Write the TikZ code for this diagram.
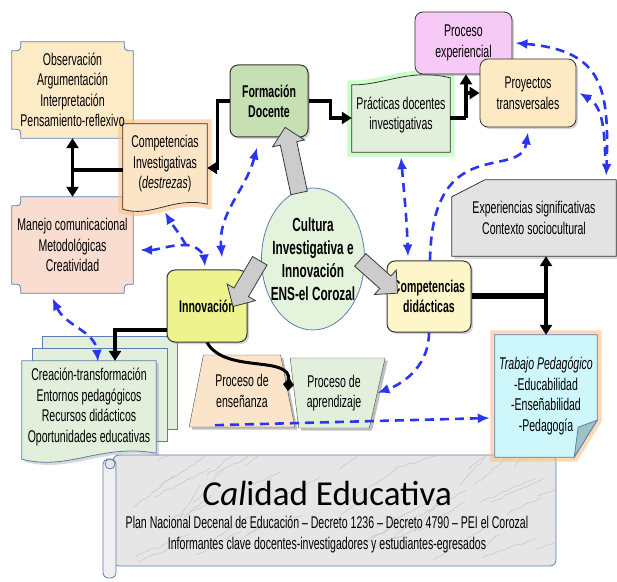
\documentclass[tikz,border=0pt]{standalone}
\usepackage{fontspec}
\setmainfont{Liberation Sans}[FakeStretch=0.62]
\newfontfamily\calibrifont{Carlito}
\usetikzlibrary{arrows.meta,shapes.geometric,shapes.arrows,shadows,calc,backgrounds,decorations.pathmorphing}

\definecolor{obsfill}{HTML}{FDEBC8}
\definecolor{manfill}{HTML}{F9DDD0}
\definecolor{invfill}{HTML}{FCE4C6}
\definecolor{formfill}{HTML}{C6E0B4}
\definecolor{pracfill}{HTML}{E2EFDA}
\definecolor{expfill}{HTML}{F7C9F7}
\definecolor{proyfill}{HTML}{FDE9C3}
\definecolor{sigfill}{HTML}{E3E3E3}
\definecolor{cultfill}{HTML}{E4F3DC}
\definecolor{innofill}{HTML}{EEF38E}
\definecolor{didfill}{HTML}{FDF6C8}
\definecolor{ensfill}{HTML}{FBE5CA}
\definecolor{trabfill}{HTML}{CDF7FB}
\definecolor{foldfill}{HTML}{9EC3C6}
\definecolor{edgeblue}{HTML}{5B7DB3}
\definecolor{dashblue}{HTML}{2A35F0}
\definecolor{marble}{HTML}{E6E6E6}

\tikzset{
  txt/.style     = {font=\fontsize{17}{20.5}\selectfont, align=center, inner sep=2pt},
  boldtxt/.style = {txt, font=\fontsize{17}{20}\selectfont\bfseries},
  flat/.style    = {txt, rectangle},
  rbox/.style    = {boldtxt, draw=black!80, line width=1pt, rounded corners=8pt,
                    drop shadow={opacity=0.35, shadow xshift=2pt, shadow yshift=-2pt}},
  lbox/.style    = {txt, draw=black!80, line width=0.8pt, rounded corners=8pt,
                    drop shadow={opacity=0.35, shadow xshift=2pt, shadow yshift=-2pt}},
  plaque/.style  = {draw=edgeblue, line width=0.8pt},
  doc/.style     = {draw=black!80, line width=0.8pt},
  glow/.style    = {preaction={draw=#1, line width=9pt, opacity=0.6}},
  blk/.style     = {draw=black, line width=3.5pt, >={Triangle[length=10pt,width=12pt]}},
  bdash/.style   = {draw=dashblue, line width=2.6pt, dash pattern=on 9pt off 6pt,
                    >={Latex[length=12pt,width=10pt]}},
  bigarr/.style  = {single arrow, draw=gray!45!black, fill=gray!40, line width=0.8pt,
                    inner xsep=0pt, inner ysep=8pt, single arrow head extend=8pt,
                    minimum height=#1, sloped, allow upside down}
}

\newcommand\plaquebox[2]{%
  \draw[plaque, fill=#2]
    ([xshift=9pt]#1.north west) -- ([xshift=-9pt]#1.north east)
    .. controls ([xshift=-9pt,yshift=-9pt]#1.north east) .. ([yshift=-9pt]#1.north east)
    -- ([yshift=9pt]#1.south east)
    .. controls ([xshift=-9pt,yshift=9pt]#1.south east) .. ([xshift=-9pt]#1.south east)
    -- ([xshift=9pt]#1.south west)
    .. controls ([xshift=9pt,yshift=9pt]#1.south west) .. ([yshift=9pt]#1.south west)
    -- ([yshift=-9pt]#1.north west)
    .. controls ([xshift=9pt,yshift=-9pt]#1.north west) .. ([xshift=9pt]#1.north west) -- cycle;}

\begin{document}
\begin{tikzpicture}[x=1pt,y=1pt]
\useasboundingbox (0,0) rectangle (617,581);

% boxes
\node[flat, minimum width=121pt, minimum height=96pt] (obs) at (72.5,491)
  {Observación\\Argumentación\\Interpretación\\Pensamiento-reflexivo};
\node[flat, minimum width=121pt, minimum height=96pt] (manejo) at (72.5,336)
  {Manejo comunicacional\\Metodológicas\\Creatividad};
\node[flat, minimum width=84pt, minimum height=80pt] (compinv) at (165,417)
  {Competencias\\Investigativas\\(\textit{destrezas})};
\node[rbox, fill=formfill, minimum width=78pt, minimum height=72pt] (formdoc) at (269,480) {Formación\\Docente};
\node[flat, minimum width=98pt, minimum height=74pt] (pract) at (401,466) {Prácticas docentes\\investigativas};
\node[lbox, fill=expfill, minimum width=97pt, minimum height=62pt] (procexp) at (463.5,538) {Proceso\\experiencial};
\node[lbox, fill=proyfill, minimum width=96pt, minimum height=68pt] (proy) at (528,488) {Proyectos\\transversales};
\node[flat, minimum width=164pt, minimum height=76pt] (exper) at (534,363)
  {Experiencias significativas\\Contexto sociocultural};
\node[ellipse, draw=edgeblue, fill=cultfill, line width=0.8pt, minimum width=103pt, minimum height=142pt,
      inner xsep=-14pt, inner ysep=0pt, align=center, font=\fontsize{19}{23}\selectfont\bfseries] (cult) at (313,322)
  {Cultura\\Investigativa e\\Innovación\\ENS-el Corozal};
\node[rbox, fill=innofill, minimum width=80pt, minimum height=72pt] (innov) at (207,275) {Innovación};
\node[rbox, fill=didfill, minimum width=84pt, minimum height=71pt] (compdid) at (429,284.5) {Competencias\\didácticas};
\node[flat, minimum width=134pt, minimum height=92pt] (crea) at (89,174)
  {Creación-transformación\\Entornos pedagógicos\\Recursos didácticos\\Oportunidades educativas};
\node[trapezium, trapezium left angle=100, trapezium right angle=108, trapezium stretches=true, txt,
      minimum width=95pt, minimum height=70pt, draw=black!70, fill=pracfill, drop shadow] (aprend) at (334,188)
  {Proceso de\\aprendizaje};
\node[trapezium, trapezium left angle=74, trapezium right angle=74, trapezium stretches=true, txt,
      minimum width=106pt, minimum height=72pt, draw=black!70, fill=ensfill, drop shadow] (ens) at (242,190)
  {Proceso de\\enseñanza};
\node[flat, minimum width=102pt, minimum height=122pt] (trab) at (546,185)
  {\textit{Trabajo Pedagógico}\\-Educabilidad\\-Enseñabilidad\\-Pedagogía};
\node[txt] (calidad) at (327,64)
  {{\calibrifont\fontsize{35}{42}\selectfont\textit{Cal}idad Educativa}\\[3pt]
   Plan Nacional Decenal de Educación – Decreto 1236 – Decreto 4790 – PEI el Corozal\\
   Informantes clave docentes-investigadores y estudiantes-egresados};

% shapes behind the texts
\begin{scope}[on background layer]
  % scroll
  \draw[edgeblue, line width=0.8pt, fill=marble, rounded corners=6pt] (113,15) rectangle (556,126);
  \begin{scope}
    \clip[rounded corners=6pt] (113,15) rectangle (556,126);
    \pgfmathsetseed{3}
    \foreach \i in {1,...,45}
      \draw[gray!45, line width=0.5pt, decorate, decoration={random steps, segment length=5pt, amplitude=1.2pt}]
        ({113+443*rnd},{15+111*rnd}) -- ++({20+40*rnd},{12+25*rnd});
  \end{scope}
  \draw[edgeblue, line width=0.8pt, fill=marble!60!white, rounded corners=5pt] (103,3) rectangle (116,122);
  \draw[edgeblue, line width=0.8pt, fill=marble] (110,117) circle (5);
  % plaques
  \plaquebox{obs}{obsfill}
  \plaquebox{manejo}{manfill}
  % documents
  \draw[doc, fill=invfill, glow=orange!50] (compinv.north west) -- (compinv.north east) -- (compinv.south east)
    .. controls ($(compinv.south)+(8,8)$) and ($(compinv.south)+(-14,-14)$) .. ([yshift=-5]compinv.south west) -- cycle;
  \draw[doc, fill=pracfill, glow=green!35] ([yshift=-7]pract.north west)
    .. controls ($(pract.north)+(-18,-8)$) and ($(pract.north)+(8,10)$) .. (pract.north east)
    -- (pract.south east) -- (pract.south west) -- cycle;
  \draw[edgeblue, line width=0.8pt, fill=pracfill] ([xshift=21,yshift=24]crea.north west) rectangle ([xshift=21,yshift=24]crea.south east);
  \draw[edgeblue, line width=0.8pt, fill=pracfill] ([xshift=11,yshift=12]crea.north west) rectangle ([xshift=11,yshift=12]crea.south east);
  \draw[edgeblue, line width=0.8pt, fill=pracfill, drop shadow={opacity=0.3}] (crea.north west) -- (crea.north east) -- (crea.south east)
    .. controls ($(crea.south)+(12,10)$) and ($(crea.south)+(-20,-18)$) .. ([yshift=-6]crea.south west) -- cycle;
  % snipped box
  \draw[doc, fill=sigfill, drop shadow={opacity=0.3}] ([yshift=-17]exper.north west) -- ([xshift=33]exper.north west)
    -- (exper.north east) -- (exper.south east) -- (exper.south west) -- cycle;
  % note
  \draw[edgeblue, line width=0.8pt, fill=trabfill, glow=orange!50] (trab.north west) -- (trab.north east)
    -- ([yshift=37]trab.south east) -- ([xshift=-23]trab.south east) -- (trab.south west) -- cycle;
  \draw[edgeblue, line width=0.8pt, fill=foldfill] ([yshift=37]trab.south east) -- ([xshift=-19,yshift=30]trab.south east)
    -- ([xshift=-23]trab.south east) -- cycle;
\end{scope}

% gray arrows
\path ([xshift=-13,yshift=62]cult.center) -- node[bigarr=67pt] (arrform) {} ([xshift=17,yshift=6]formdoc.south);
\path ([xshift=-51,yshift=2]cult.center) -- node[bigarr=53pt] (arrinno) {} ([xshift=28,yshift=3]innov.center);
\path ([xshift=44,yshift=2]cult.center) -- node[bigarr=50pt] (arrdid) {} ([xshift=8,yshift=6]compdid.west);

% black connectors
\draw[blk,->] (formdoc.west) -- ++(-12,0) |- ([yshift=-4]compinv.east);
\draw[blk,->] (formdoc.east) -- ++(22,0) |- ([yshift=-3]pract.west);
\coordinate (split) at (466,463);
\draw[blk] ([yshift=-3]pract.east) -- (split);
\draw[blk,->] (split) -- (split |- procexp.south);
\draw[blk,->] (split |- proy.west) -- (proy.west);
\draw[blk,<->] (obs.south) -- (manejo.north);
\draw[blk] ([yshift=-6]compinv.west) -- ([yshift=-6]compinv.west -| obs.south);
\draw[blk,<->] (exper.south -| trab.north) -- (trab.north);
\draw[blk, line width=6pt] (compdid.east) -- (compdid.east -| trab.north);
\draw[blk,->] ([yshift=-24]innov.west) -| ([xshift=26]crea.north);
\draw[blk, line width=3pt, >={Diamond[length=13pt,width=11pt]}, ->] (innov.south) to[out=-60,in=85] (ens.east);

% blue dashed connectors
\coordinate (fork) at (186,336);
\draw[bdash,<->] ([xshift=-12,yshift=-10]formdoc.south) to[out=-105,in=95] ([xshift=15,yshift=12]innov.north);
\draw[bdash,<->] ([xshift=7,yshift=-5]manejo.east) to[out=0,in=180] (fork) to[out=0,in=95] ([xshift=-2,yshift=3]innov.north);
\draw[bdash,->] (fork) to[out=120,in=-60] ([yshift=-8]compinv.south);
\draw[bdash,<->] ([xshift=-20,yshift=-5]manejo.south) to[out=-65,in=95] ([xshift=9,yshift=-1]crea.north);
\draw[bdash,<->] ([yshift=-5]pract.south) to[out=-85,in=92] ([xshift=-21,yshift=4]compdid.north);
\draw[bdash,->] ([xshift=1]compdid.north) .. controls +(2,130) and +(-8,-49) .. ([yshift=-5]proy.south);
\draw[bdash,->] (compdid.south) to[out=-90,in=20] (aprend.east);
\draw[bdash,->] ([xshift=-27,yshift=2]ens.south) -- ([xshift=-5,yshift=-22]trab.west);
\draw[bdash,<->] ([xshift=3]procexp.east) to[out=-5,in=88,looseness=1.4] ([xshift=-10,yshift=4]exper.north east);
\draw[bdash,->] ([xshift=-11,yshift=24]exper.north east) to[out=92,in=-30] ([xshift=3]proy.east);
\end{tikzpicture}
\end{document}
